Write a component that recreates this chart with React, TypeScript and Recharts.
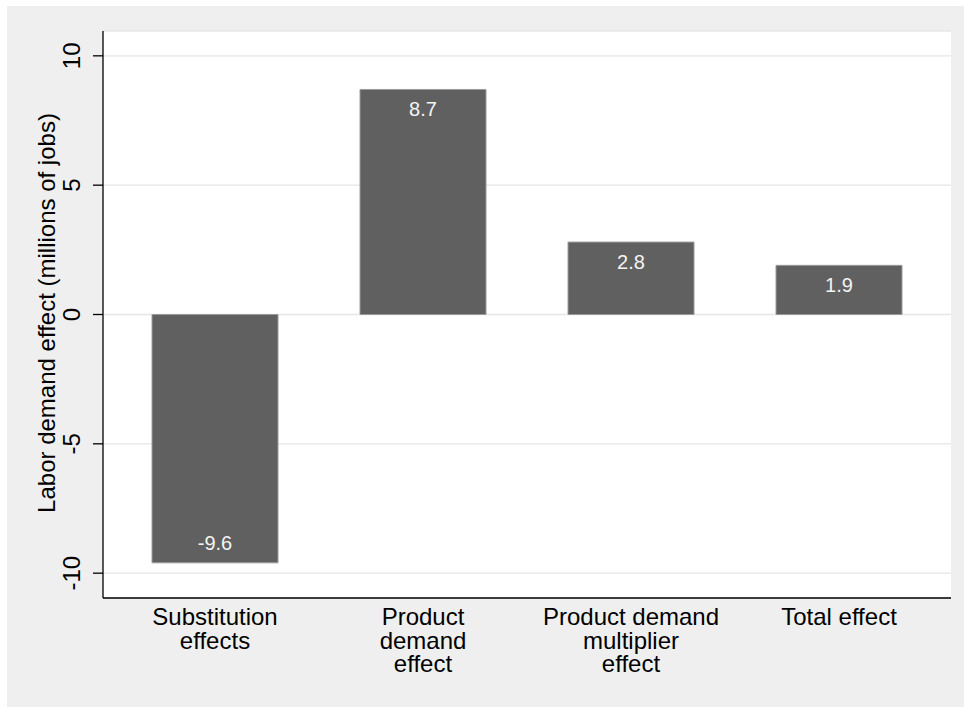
import React from "react";
import { BarChart, Bar, XAxis, YAxis, CartesianGrid, LabelList } from "recharts";

const categories = ["Substitution effects", "Product demand effect", "Product demand multiplier effect", "Total effect"];
const categoryLines = [
  ["Substitution", "effects"],
  ["Product", "demand", "effect"],
  ["Product demand", "multiplier", "effect"],
  ["Total effect"],
];
const values = [-9.6, 8.7, 2.8, 1.9];
const yTicks = [-10, -5, 0, 5, 10];
const yTitle = "Labor demand effect (millions of jobs)";

const data = categories.map((c, i) => ({ name: c, value: values[i], lines: categoryLines[i] }));

const FONT = "'Liberation Sans', Arial, Helvetica, sans-serif";

const YTick = (props: any) => {
  const { x, y, payload } = props;
  return (
    <text
      x={x}
      y={y}
      transform={`rotate(-90, ${x}, ${y})`}
      textAnchor="middle"
      dominantBaseline="central"
      fontFamily={FONT}
      fontSize={24}
      fill="#000"
    >
      {payload.value}
    </text>
  );
};

const XTick = (props: any) => {
  const { x, y, index } = props;
  const lines = categoryLines[index] || [];
  return (
    <text x={x} y={y} textAnchor="middle" fontFamily={FONT} fontSize={24} fill="#000">
      {lines.map((l, i) => (
        <tspan key={i} x={x} y={y + 27.4 + i * 23.3}>
          {l}
        </tspan>
      ))}
    </text>
  );
};

const BarValueLabel = (props: any) => {
  const { x, y, width, height, value } = props;
  const top = Math.min(y, y + height);
  const bottom = Math.max(y, y + height);
  const ty = value >= 0 ? top + 26.5 : bottom - 12.5;
  return (
    <text x={x + width / 2} y={ty} textAnchor="middle" fontFamily={FONT} fontSize={20} fill="#f4f4f4">
      {value}
    </text>
  );
};

const YTitle = (props: any) => {
  const vb = props.viewBox || { x: 0, y: 31, width: 103, height: 567 };
  const cx = 46;
  const cy = vb.y + vb.height / 2 - 1.5;
  return (
    <text
      x={cx}
      y={cy}
      transform={`rotate(-90, ${cx}, ${cy})`}
      textAnchor="middle"
      dominantBaseline="central"
      fontFamily={FONT}
      fontSize={24}
      fill="#000"
    >
      {yTitle}
    </text>
  );
};

export default function App() {
  return (
    <div style={{ position: "absolute", left: 0, top: 0, width: 964, height: 707, background: "#fff", overflow: "hidden" }}>
      <div style={{ position: "absolute", left: 7, top: 6, width: 957, height: 701, background: "#efefef" }} />
      <div style={{ position: "absolute", left: 0, top: 0 }}>
        <BarChart
          width={964}
          height={707}
          data={data}
          margin={{ top: 31, right: 13, left: 0, bottom: 0 }}
          barSize={126}
        >
          <CartesianGrid horizontal vertical={false} fill="#ffffff" stroke="#e6e6e6" strokeWidth={1.3} />
          <XAxis
            dataKey="name"
            height={109}
            padding={{ left: 8, right: 8 }}
            tickLine={false}
            tickSize={0}
            tickMargin={0}
            axisLine={{ stroke: "#000", strokeWidth: 1.3 }}
            tick={<XTick />}
            interval={0}
          />
          <YAxis
            width={103}
            domain={[-10.96, 10.96]}
            ticks={yTicks}
            allowDataOverflow
            tickSize={10}
            tickMargin={21.5}
            tickLine={{ stroke: "#000", strokeWidth: 1.3 }}
            axisLine={{ stroke: "#000", strokeWidth: 1.3 }}
            tick={<YTick />}
            label={<YTitle />}
          />
          <Bar dataKey="value" fill="#606060" stroke="#9a9a9a" strokeWidth={1} isAnimationActive={false}>
            <LabelList dataKey="value" content={<BarValueLabel />} />
          </Bar>
        </BarChart>
      </div>
    </div>
  );
}
